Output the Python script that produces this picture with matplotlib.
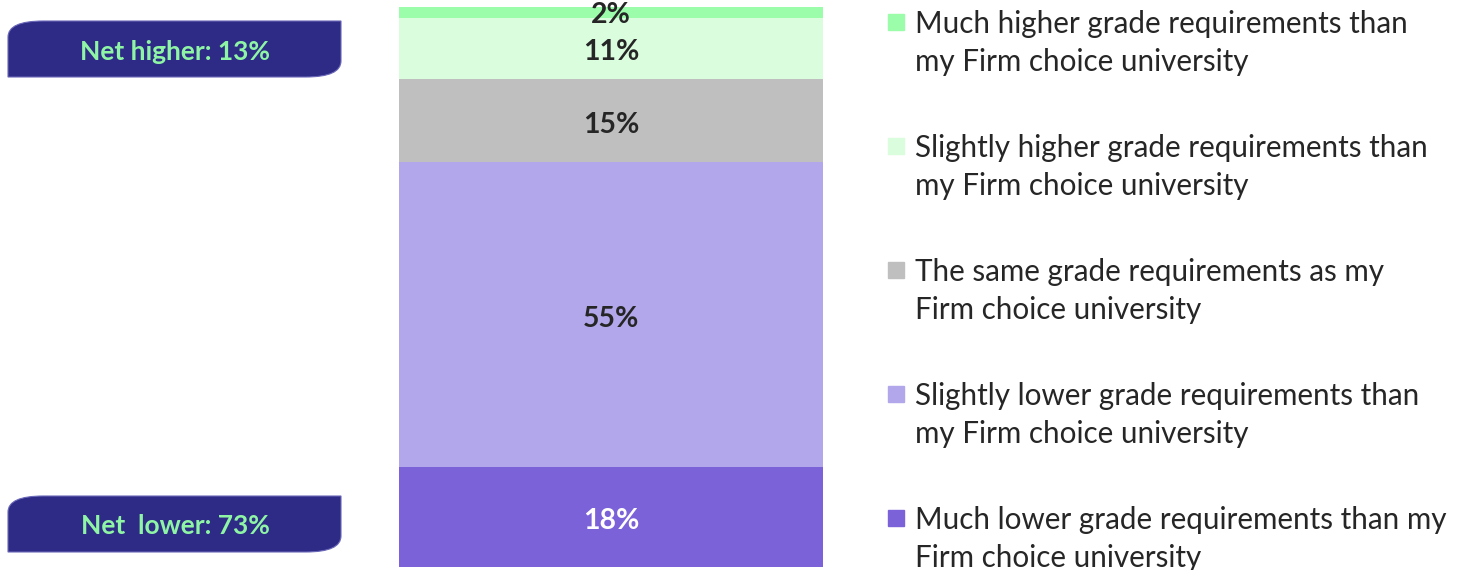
import matplotlib.pyplot as plt
from matplotlib.path import Path
from matplotlib.patches import PathPatch, Rectangle

plt.rcParams['font.family'] = ['Lato', 'DejaVu Sans']

# data, bottom to top
labels = [
    "Much lower grade requirements than my\nFirm choice university",
    "Slightly lower grade requirements than\nmy Firm choice university",
    "The same grade requirements as my\nFirm choice university",
    "Slightly higher grade requirements than\nmy Firm choice university",
    "Much higher grade requirements than\nmy Firm choice university",
]
values = [18, 55, 15, 11, 2]
colors = ["#7B62D9", "#B3A7EB", "#BFBFBF", "#D9FDDD", "#9BFDAA"]
text_colors = ["white", "#262626", "#262626", "#262626", "#262626"]
net_labels = ["Net higher: 13%", "Net  lower: 73%"]

W, H = 1476, 570
fig = plt.figure(figsize=(W / 100, H / 100), dpi=100)

# stacked bar
ax = fig.add_axes([399 / W, 3 / H, 424 / W, 560 / H])
bottom = 0
for v, c, tc in zip(values, colors, text_colors):
    ax.bar(0, v, bottom=bottom, width=1, color=c)
    y = bottom + v / 2 - 0.7
    if v == 2:
        y += 0.3
    ax.text(0, y, f"{v}%", ha="center", va="center", fontsize=20.5,
            fontweight="bold", color=tc)
    bottom += v
ax.set_xlim(-0.5, 0.5)
ax.set_ylim(0, sum(values))
ax.axis("off")

# overlay in pixel coords for badges and legend
ov = fig.add_axes([0, 0, 1, 1])
ov.set_xlim(0, W)
ov.set_ylim(H, 0)
ov.axis("off")


def badge(x0, y0, x1, y1, r):
    verts = [
        (x0, y0 + r), (x0, y0), (x0 + r * 2.2, y0),
        (x1, y0), (x1, y1 - r),
        (x1, y1), (x1 - r * 2.2, y1),
        (x0, y1), (x0, y0 + r), (x0, y0 + r),
    ]
    codes = [Path.MOVETO, Path.CURVE3, Path.CURVE3,
             Path.LINETO, Path.LINETO,
             Path.CURVE3, Path.CURVE3,
             Path.LINETO, Path.LINETO, Path.CLOSEPOLY]
    return PathPatch(Path(verts, codes), facecolor="#2E2B87",
                     edgecolor="#6A68B8", lw=0.8)


for (y0, y1), txt in zip([(21, 77), (496, 552)], net_labels):
    ov.add_patch(badge(8, y0, 341, y1, 16))
    ov.text(175, (y0 + y1) / 2 + 2.5, txt, ha="center", va="center",
            fontsize=19, fontweight="bold", color="#8EF5A5")

# legend, top to bottom
for i, (lab, c) in enumerate(zip(labels[::-1], colors[::-1])):
    y = 22 + i * 124
    ov.add_patch(Rectangle((888, y - 8), 16, 16, color=c))
    l1, l2 = lab.split("\n")
    ov.text(915, y + 1.5, l1, ha="left", va="center", fontsize=21.3, color="#262626")
    ov.text(915, y + 40.5, l2, ha="left", va="center", fontsize=21.3, color="#262626")

fig.savefig("out.png", dpi=100)
